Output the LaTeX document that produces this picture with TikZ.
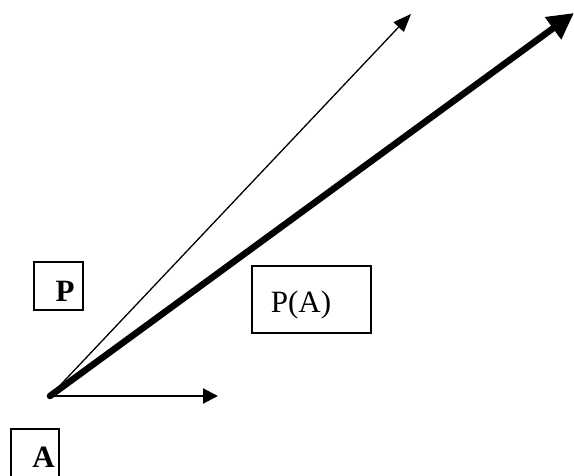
\documentclass[tikz,border=0pt]{standalone}
\usepackage{fontspec}
\setmainfont{Liberation Serif}
\usetikzlibrary{arrows.meta}
\begin{document}
\begin{tikzpicture}[x=1pt,y=1pt,
  box/.style={draw=black,line width=1.5pt,inner sep=0pt},
  lbl/.style={inner sep=0pt,font=\fontsize{31}{31}\selectfont},
  blbl/.style={inner sep=0pt,font=\fontsize{31}{31}\selectfont\bfseries},
  thinarrow/.style={line width=1.3pt,-{Triangle[length=18pt,width=14pt]}},
  shortarrow/.style={line width=2pt,-{Triangle[length=15pt,width=15pt]}},
  thickarrow/.style={line width=6.5pt,line cap=round,-{Triangle[length=26pt,width=26pt]}}]
\useasboundingbox (0,0) rectangle (574,475);
\fill[white] (0,0) rectangle (574,475);
\coordinate (O) at (50,79);
\coordinate (T1) at (411,461);
\coordinate (T2) at (574,462);
\coordinate (T3) at (218,79);
\draw[thinarrow] (O) -- (T1);
\draw[shortarrow] (O) -- (T3);
\draw[thickarrow] (O) -- (T2);
% boxes
\node[box,minimum width=49pt,minimum height=48pt] (Pbox) at (58.5,189) {};
\node[blbl] (Ptxt) at (65,184) {P};
\node[box,minimum width=48pt,minimum height=49pt] (Abox) at (35,21.5) {};
\node[blbl] (Atxt) at (43.5,18) {A};
\node[box,minimum width=119pt,minimum height=67pt] (PAbox) at (311.5,175.5) {};
\node[lbl] (PAtxt) at (301,170) {P(A)};
\end{tikzpicture}
\end{document}
